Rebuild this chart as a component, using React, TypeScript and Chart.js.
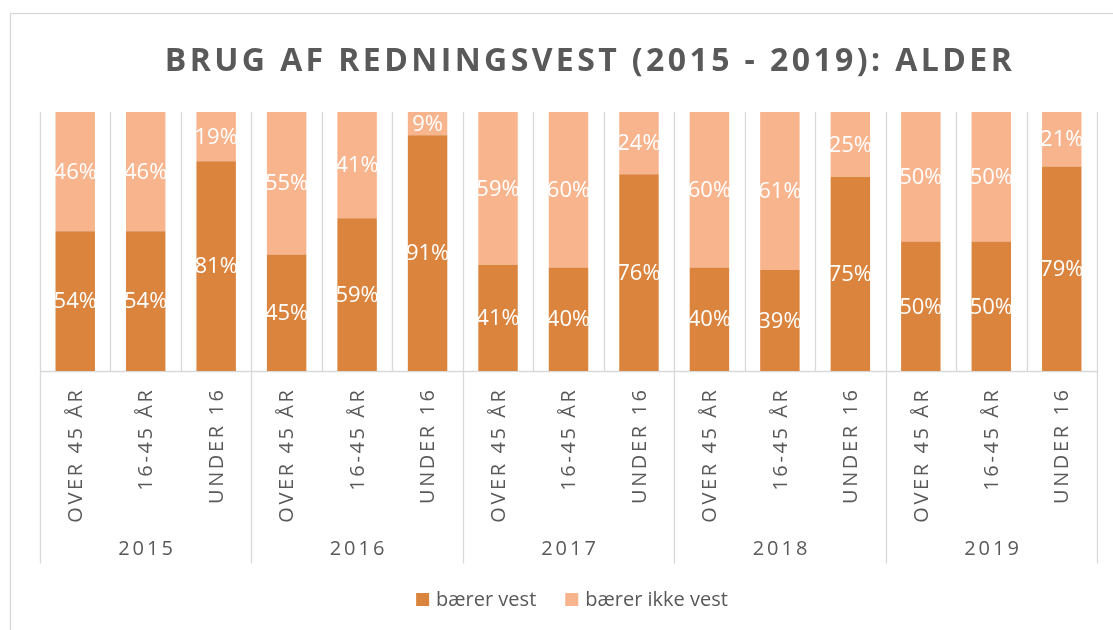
import { useEffect, useRef } from 'react';
import { Chart, registerables } from 'chart.js';

Chart.register(...registerables);

const chartTitle = 'BRUG AF REDNINGSVEST (2015 - 2019): ALDER';
const years = ['2015', '2016', '2017', '2018', '2019'];
const ageGroups = ['OVER 45 ÅR', '16-45 ÅR', 'UNDER 16'];
const seriesNames = ['bærer vest', 'bærer ikke vest'];
const wearsVest = [54, 54, 81, 45, 59, 91, 41, 40, 76, 40, 39, 75, 50, 50, 79];
const notWearingVest = [46, 46, 19, 55, 41, 9, 59, 60, 24, 60, 61, 25, 50, 50, 21];
const seriesColors = ['#DA843E', '#F8B48D'];

const categories = years.flatMap((y) => ageGroups.map((a) => `${a}|${y}`));

const FONT = '"Open Sans", "Noto Sans", sans-serif';
const TEXT = '#595959';
const GRID = '#D9D9D9';

const decorPlugin = {
  id: 'decor',
  beforeDraw(chart: any) {
    const { ctx, chartArea: ca } = chart;
    const xs = chart.scales.x;
    ctx.save();
    ctx.fillStyle = '#FFFFFF';
    ctx.fillRect(0, 0, chart.width, chart.height);
    // outer frame
    ctx.strokeStyle = GRID;
    ctx.lineWidth = 1.3;
    ctx.strokeRect(10.5, 13.5, chart.width + 20, chart.height + 20);

    const n = categories.length;
    const w = (ca.right - ca.left) / n;
    const edge = (i: number) => Math.round(xs.getPixelForValue(0) - w / 2 + i * w) + 0.5;
    const axisY = Math.round(ca.bottom) + 0.5;
    const labelBottom = axisY + 192;

    ctx.beginPath();
    for (let i = 0; i <= n; i++) {
      const x = edge(i);
      ctx.moveTo(x, ca.top);
      ctx.lineTo(x, axisY);
    }
    for (let g = 0; g <= years.length; g++) {
      const x = edge(g * ageGroups.length);
      ctx.moveTo(x, axisY);
      ctx.lineTo(x, labelBottom);
    }
    ctx.moveTo(edge(0), axisY);
    ctx.lineTo(edge(n), axisY);
    ctx.stroke();

    // title
    ctx.fillStyle = TEXT;
    ctx.font = `bold 32px ${FONT}`;
    (ctx as any).letterSpacing = '3.4px';
    ctx.textAlign = 'center';
    ctx.textBaseline = 'middle';
    ctx.fillText(chartTitle, 590, 62);

    // category labels (rotated)
    ctx.font = `20px ${FONT}`;
    (ctx as any).letterSpacing = '2.6px';
    ctx.textAlign = 'right';
    ctx.textBaseline = 'middle';
    categories.forEach((c, i) => {
      const label = c.split('|')[0];
      const x = xs.getPixelForValue(i);
      ctx.save();
      ctx.translate(x + 1, axisY + 16);
      ctx.rotate(-Math.PI / 2);
      ctx.fillText(label, 0, 0);
      ctx.restore();
    });

    // year labels
    ctx.textAlign = 'center';
    (ctx as any).letterSpacing = '3px';
    years.forEach((y, g) => {
      const cx = (edge(g * 3) + edge(g * 3 + 3)) / 2 + 1;
      ctx.fillText(y, cx, axisY + 178);
    });

    // legend
    ctx.font = `20px ${FONT}`;
    (ctx as any).letterSpacing = '0px';
    ctx.textAlign = 'left';
    ctx.textBaseline = 'alphabetic';
    const box = 13;
    const gapBoxText = 7;
    const gapItems = 29;
    const widths = seriesNames.map((s) => ctx.measureText(s).width);
    const total = widths.reduce((a, b) => a + b, 0) + seriesNames.length * (box + gapBoxText) + gapItems * (seriesNames.length - 1);
    let lx = 572 - total / 2;
    const ly = 600;
    seriesNames.forEach((s, i) => {
      ctx.fillStyle = seriesColors[i];
      ctx.fillRect(lx, ly - 7, box, box);
      ctx.fillStyle = TEXT;
      ctx.fillText(s, lx + box + gapBoxText, ly + 6);
      lx += box + gapBoxText + widths[i] + gapItems;
    });
    ctx.restore();
  },
  afterDatasetsDraw(chart: any) {
    const { ctx } = chart;
    ctx.save();
    ctx.fillStyle = '#FFFFFF';
    ctx.font = `22px ${FONT}`;
    (ctx as any).letterSpacing = '0px';
    ctx.textAlign = 'center';
    ctx.textBaseline = 'middle';
    chart.data.datasets.forEach((ds: any, di: number) => {
      const meta = chart.getDatasetMeta(di);
      meta.data.forEach((bar: any, i: number) => {
        const v = ds.data[i];
        const cy = (bar.y + bar.base) / 2;
        ctx.fillText(`${v}%`, bar.x, cy + 1);
      });
    });
    ctx.restore();
  },
};

export default function App() {
  const ref = useRef<HTMLCanvasElement | null>(null);

  useEffect(() => {
    if (!ref.current) return;
    const chart = new Chart(ref.current, {
      type: 'bar',
      data: {
        labels: categories,
        datasets: [
          {
            label: seriesNames[0],
            data: wearsVest,
            backgroundColor: seriesColors[0],
            categoryPercentage: 1,
            barPercentage: 0.56,
          },
          {
            label: seriesNames[1],
            data: notWearingVest,
            backgroundColor: seriesColors[1],
            categoryPercentage: 1,
            barPercentage: 0.56,
          },
        ],
      },
      options: {
        animation: false,
        responsive: false,
        maintainAspectRatio: false,
        layout: { padding: { left: 40, right: 16, top: 112, bottom: 259 } },
        scales: {
          x: { display: false, stacked: true },
          y: { display: false, stacked: true, min: 0, max: 100 },
        },
        plugins: {
          legend: { display: false },
          title: { display: false },
          tooltip: { enabled: false },
        },
      },
      plugins: [decorPlugin],
    });
    return () => chart.destroy();
  }, []);

  return (
    <div style={{ position: 'fixed', left: 0, top: 0, width: 1113, height: 630, background: '#fff' }}>
      <canvas ref={ref} width={1113} height={630} style={{ display: 'block', width: 1113, height: 630 }} />
    </div>
  );
}
